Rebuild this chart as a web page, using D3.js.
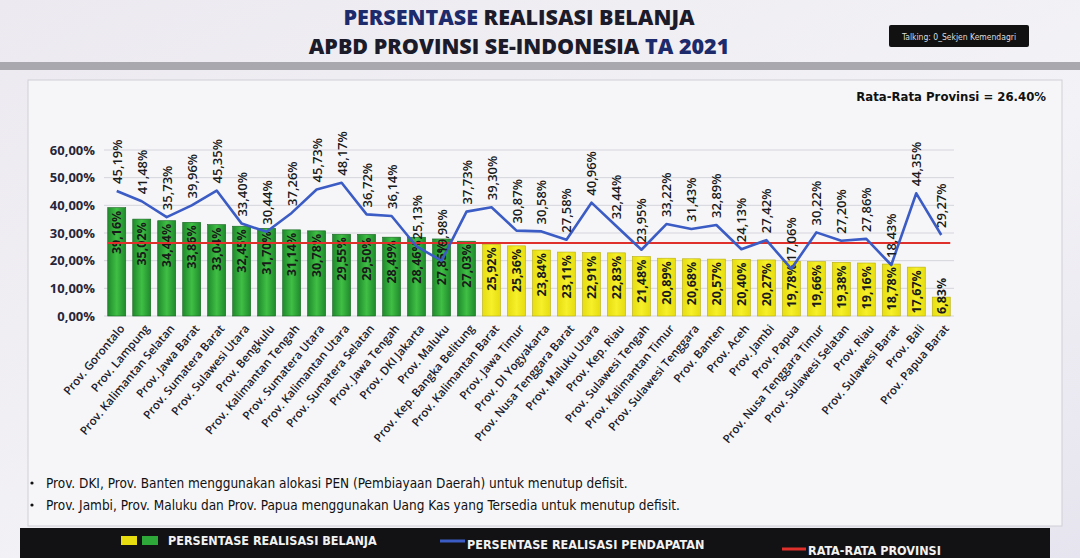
<!DOCTYPE html>
<html><head><meta charset="utf-8">
<script src="https://cdn.jsdelivr.net/npm/d3@7/dist/d3.min.js"></script>
<style>
html,body{margin:0;padding:0;background:#e9e8ee;}
svg{display:block;}
</style></head>
<body>
<svg id="c" width="1080" height="558"></svg>
<script>
const provinces = ["Prov. Gorontalo","Prov. Lampung","Prov. Kalimantan Selatan","Prov. Jawa Barat","Prov. Sumatera Barat","Prov. Sulawesi Utara","Prov. Bengkulu","Prov. Kalimantan Tengah","Prov. Sumatera Utara","Prov. Kalimantan Utara","Prov. Sumatera Selatan","Prov. Jawa Tengah","Prov. DKI Jakarta","Prov. Maluku","Prov. Kep. Bangka Belitung","Prov. Kalimantan Barat","Prov. Jawa Timur","Prov. DI Yogyakarta","Prov. Nusa Tenggara Barat","Prov. Maluku Utara","Prov. Kep. Riau","Prov. Sulawesi Tengah","Prov. Kalimantan Timur","Prov. Sulawesi Tenggara","Prov. Banten","Prov. Aceh","Prov. Jambi","Prov. Papua","Prov. Nusa Tenggara Timur","Prov. Sulawesi Selatan","Prov. Riau","Prov. Sulawesi Barat","Prov. Bali","Prov. Papua Barat"];
const belanja = [39.16,35.02,34.44,33.86,33.04,32.45,31.70,31.14,30.78,29.55,29.50,28.49,28.46,27.85,27.03,25.92,25.36,23.84,23.11,22.91,22.83,21.48,20.89,20.68,20.57,20.40,20.27,19.78,19.66,19.38,19.16,18.78,17.67,6.83];
const pendapatan = [45.19,41.48,35.73,39.96,45.35,33.40,30.44,37.26,45.73,48.17,36.72,36.14,25.13,19.98,37.73,39.30,30.87,30.58,27.58,40.96,32.44,23.95,33.22,31.43,32.89,24.13,27.42,17.06,30.22,27.20,27.86,18.43,44.35,29.27];
const rataRata = 26.40;
const yTicks = [0,10,20,30,40,50,60];
const notes = ["Prov. DKI, Prov. Banten menggunakan alokasi PEN (Pembiayaan Daerah) untuk menutup defisit.","Prov. Jambi, Prov. Maluku dan Prov. Papua menggunakan Uang Kas yang Tersedia untuk menutup defisit."];
const legendItems = ["PERSENTASE REALISASI BELANJA","PERSENTASE REALISASI PENDAPATAN","RATA-RATA PROVINSI"];

const svg = d3.select("#c");
const fmt = v => v.toFixed(2).replace(".", ",") + "%";
const narrow = "'DejaVu Sans Condensed','Liberation Sans Narrow',Arial,sans-serif";
const sans = "'Open Sans','Liberation Sans',Arial,sans-serif";

// background
const defs = svg.append("defs");
const bg = defs.append("linearGradient").attr("id","bg").attr("x1",0).attr("y1",0).attr("x2",1).attr("y2",1);
bg.append("stop").attr("offset","0%").attr("stop-color","#eceaf0");
bg.append("stop").attr("offset","60%").attr("stop-color","#f3f2f6");
bg.append("stop").attr("offset","100%").attr("stop-color","#e6e4ee");
svg.append("rect").attr("width",1080).attr("height",558).attr("fill","url(#bg)");
const gg = defs.append("linearGradient").attr("id","gbar").attr("x1",0).attr("x2",1).attr("y1",0).attr("y2",0);
gg.append("stop").attr("offset","0%").attr("stop-color","#1f8a2c");
gg.append("stop").attr("offset","50%").attr("stop-color","#3fbf44");
gg.append("stop").attr("offset","100%").attr("stop-color","#1f8a2c");
const yg = defs.append("linearGradient").attr("id","ybar").attr("x1",0).attr("x2",1).attr("y1",0).attr("y2",0);
yg.append("stop").attr("offset","0%").attr("stop-color","#e6dc10");
yg.append("stop").attr("offset","50%").attr("stop-color","#f6f02a");
yg.append("stop").attr("offset","100%").attr("stop-color","#e6dc10");

// gray band
svg.append("rect").attr("x",0).attr("y",62).attr("width",1080).attr("height",8).attr("fill","#a9a8ae");
// chart box
svg.append("rect").attr("x",28).attr("y",80).attr("width",1034).attr("height",446).attr("fill","#f6f6f9").attr("stroke","#cfcfd6");

// title
const t = svg.append("text").attr("x",519).attr("y",25).attr("text-anchor","middle")
  .attr("font-family",sans).attr("font-weight",800).attr("font-size",21.5);
t.append("tspan").attr("fill","#1d2a6b").text("PERSENTASE ");
t.append("tspan").attr("fill","#1b1b2a").text("REALISASI BELANJA");
const t2 = svg.append("text").attr("x",519).attr("y",54).attr("text-anchor","middle")
  .attr("font-family",sans).attr("font-weight",800).attr("font-size",21.5);
t2.append("tspan").attr("fill","#1b1b2a").text("APBD PROVINSI SE-INDONESIA ");
t2.append("tspan").attr("fill","#1d2a6b").text("TA 2021");

// talking tag
svg.append("rect").attr("x",889).attr("y",25).attr("width",140).attr("height",22).attr("rx",2).attr("fill","#111");
svg.append("text").attr("x",959).attr("y",40).attr("text-anchor","middle").attr("fill","#ddd")
  .attr("font-family",narrow).attr("font-size",8.5).text("Talking: 0_Sekjen Kemendagri");

svg.append("text").attr("x",1046).attr("y",101).attr("text-anchor","end").attr("fill","#111")
  .attr("font-family",narrow).attr("font-weight",700).attr("font-size",13).text("Rata-Rata Provinsi = " + rataRata.toFixed(2) + "%");

// scales
const x = d3.scaleBand().domain(provinces).range([104, 954]).paddingInner(0.28).paddingOuter(0.15);
const y = d3.scaleLinear().domain([0, 60]).range([316, 150]);

// grid
svg.append("g").selectAll("line").data(yTicks).join("line")
  .attr("x1",104).attr("x2",954).attr("y1",d=>y(d)).attr("y2",d=>y(d))
  .attr("stroke","#d4d4dc").attr("stroke-width",1);

// y axis
const yAxis = svg.append("g").attr("transform","translate(97,0)")
  .call(d3.axisLeft(y).tickValues(yTicks).tickSize(0).tickPadding(2).tickFormat(d => d.toFixed(2).replace(".", ",") + "%"));
yAxis.select(".domain").remove();
yAxis.selectAll("text").attr("font-family",sans).attr("font-weight",700).attr("font-size",13).attr("fill","#26263a");

// bars
svg.append("g").selectAll("rect").data(belanja).join("rect")
  .attr("x",(d,i)=>x(provinces[i])).attr("width",x.bandwidth())
  .attr("y",d=>y(d)).attr("height",d=>y(0)-y(d))
  .attr("fill",d=> d > rataRata ? "url(#gbar)" : "url(#ybar)")
  .attr("stroke",d=> d > rataRata ? "#17641f" : "#b8ae10").attr("stroke-width",0.6);

// bar labels (short bars: label rises from the baseline)
const fits = d => (y(0) - y(d)) > 46;
svg.append("g").selectAll("text").data(belanja).join("text")
  .attr("transform",(d,i)=>`translate(${x(provinces[i])+x.bandwidth()/2},${fits(d) ? y(d)+3 : y(0)-2}) rotate(-90)`)
  .attr("text-anchor",d=>fits(d) ? "end" : "start").attr("dominant-baseline","central")
  .attr("font-family",sans).attr("font-weight",700).attr("font-size",12.5).attr("fill","#1a1a1a")
  .text(d=>fmt(d));

// average line
svg.append("line").attr("x1",x(provinces[0])).attr("x2",x(provinces[provinces.length-1])+x.bandwidth())
  .attr("y1",y(rataRata)).attr("y2",y(rataRata)).attr("stroke","#e0302c").attr("stroke-width",2);

// pendapatan line
const line = d3.line().x((d,i)=>x(provinces[i])+x.bandwidth()/2).y(d=>y(d));
svg.append("path").datum(pendapatan).attr("d",line).attr("fill","none")
  .attr("stroke","#3b5cc4").attr("stroke-width",2.6).attr("stroke-linejoin","round");

svg.append("g").selectAll("text").data(pendapatan).join("text")
  .attr("transform",(d,i)=>`translate(${x(provinces[i])+x.bandwidth()/2},${y(d)-7}) rotate(-90)`)
  .attr("text-anchor","start").attr("dominant-baseline","central")
  .attr("font-family",sans).attr("font-weight",600).attr("font-size",13).attr("fill","#1a1a1a")
  .text(d=>fmt(d));

// x labels
svg.append("g").selectAll("text").data(provinces).join("text")
  .attr("transform",d=>`translate(${x(d)+x.bandwidth()/2+5},${y(0)+10}) rotate(-50)`)
  .attr("text-anchor","end").attr("dominant-baseline","central")
  .attr("font-family",sans).attr("font-weight",600).attr("font-size",11.5).attr("fill","#1c1c2c")
  .text(d=>d);

// notes
svg.append("g").selectAll("text").data(notes).join("text")
  .attr("x",46).attr("y",(d,i)=>488+i*22)
  .attr("font-family",narrow).attr("font-size",13.5).attr("fill","#111").text(d=>d);
svg.append("g").selectAll("circle").data(notes).join("circle")
  .attr("cx",32).attr("cy",(d,i)=>483+i*22).attr("r",1.6).attr("fill","#111");

// legend band
svg.append("rect").attr("x",20).attr("y",528).attr("width",1030).attr("height",30).attr("fill","#121214");
svg.append("rect").attr("x",121).attr("y",536).attr("width",16).attr("height",9).attr("fill","#e6dc10");
svg.append("rect").attr("x",142).attr("y",536).attr("width",16).attr("height",9).attr("fill","#2fa83a");
svg.append("line").attr("x1",440).attr("x2",465).attr("y1",541).attr("y2",541).attr("stroke","#3b5cc4").attr("stroke-width",3);
svg.append("line").attr("x1",782).attr("x2",806).attr("y1",549).attr("y2",549).attr("stroke","#e0302c").attr("stroke-width",3);
const lx = [168, 467, 808], ly = [545, 549, 555];
svg.append("g").selectAll("text").data(legendItems).join("text")
  .attr("x",(d,i)=>lx[i]).attr("y",(d,i)=>ly[i])
  .attr("font-family",narrow).attr("font-weight",700).attr("font-size",12.5).attr("fill","#f2f2f2").text(d=>d);
</script>
</body></html>
